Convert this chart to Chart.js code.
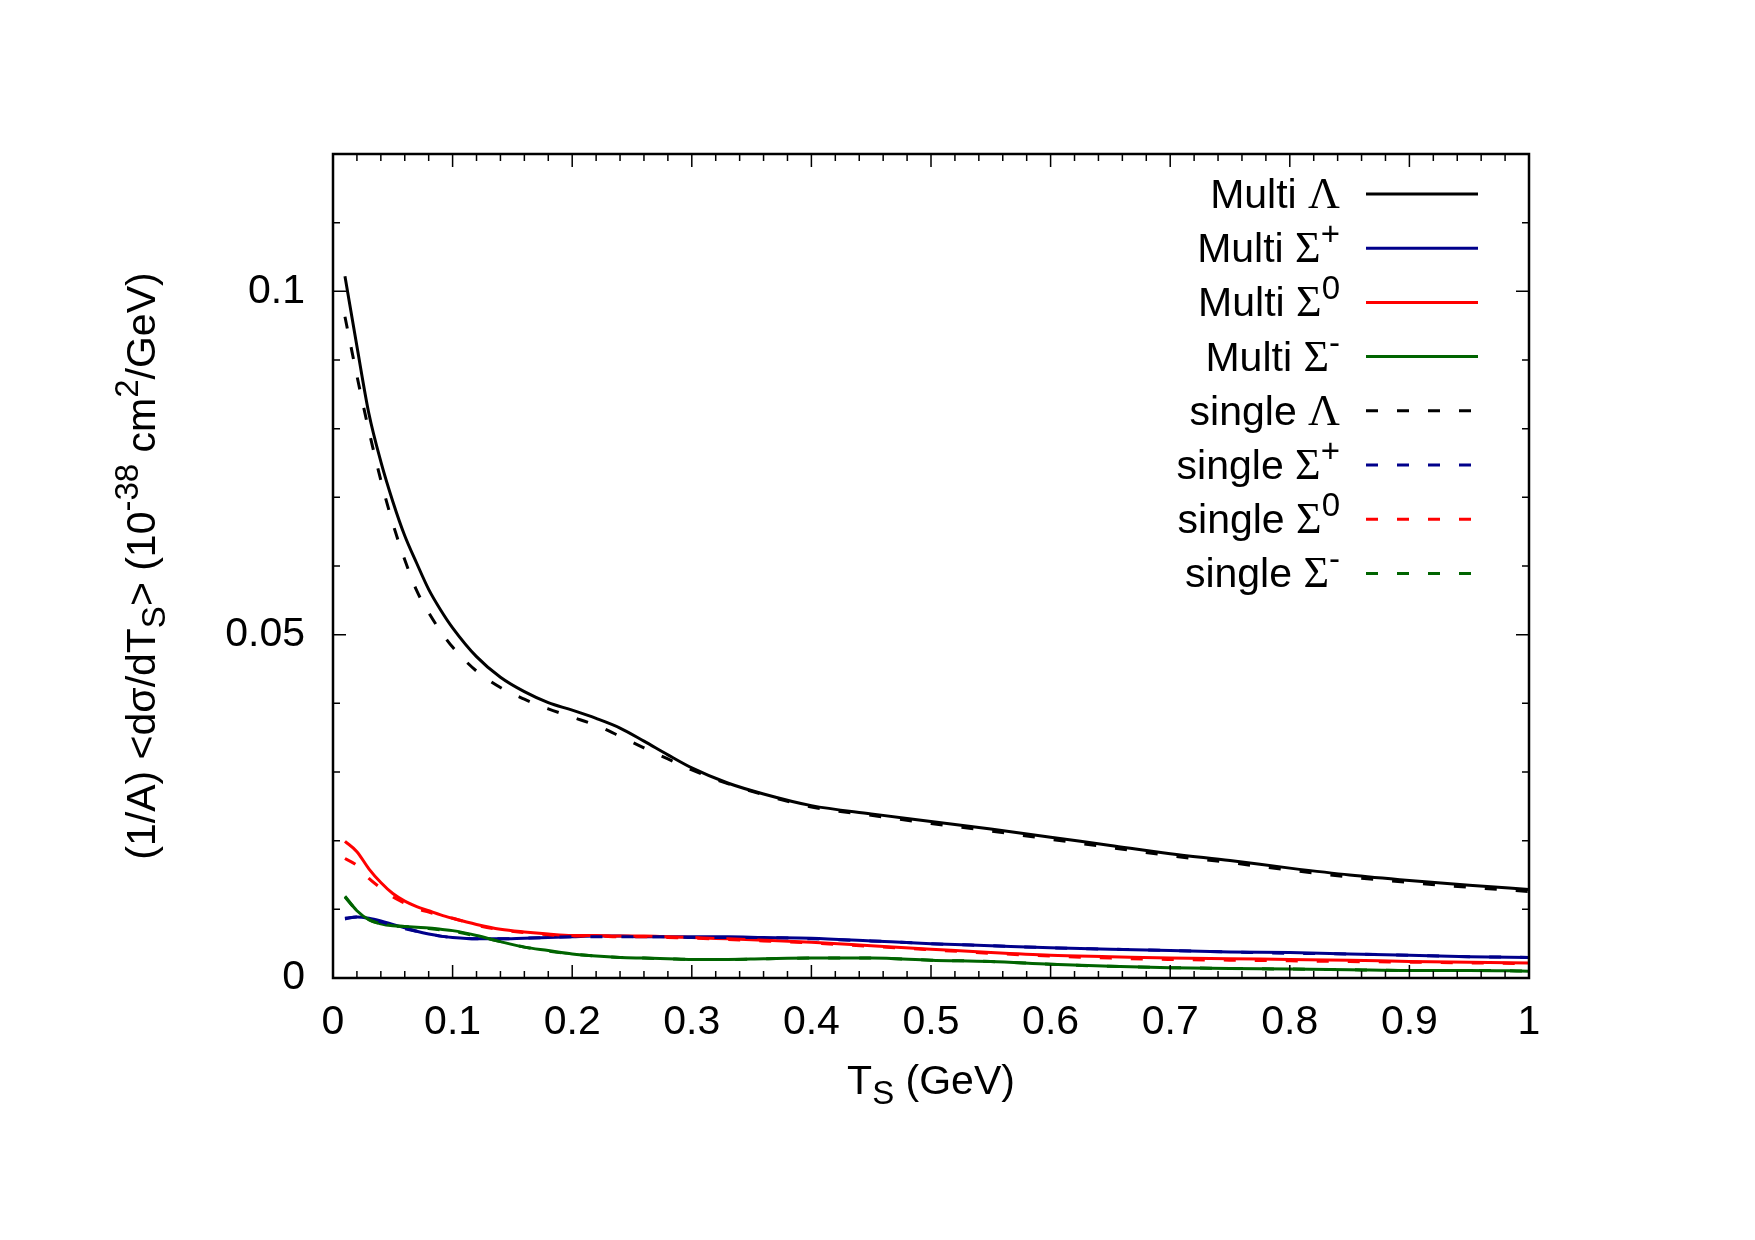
<!DOCTYPE html>
<html>
<head>
<meta charset="utf-8">
<script src="https://cdn.jsdelivr.net/npm/chart.js@4.4.0/dist/chart.umd.min.js"></script>
<style>
html, body { margin: 0; padding: 0; background: #fff; }
#wrap { width: 1755px; height: 1240px; }
</style>
</head>
<body>
<div id="wrap"><canvas id="chart" width="1755" height="1240"></canvas></div>
<script>
// T_S (GeV)
const ts = [0.01, 0.02, 0.03, 0.04, 0.05, 0.06, 0.07, 0.08, 0.09, 0.10,
  0.12, 0.14, 0.16, 0.18, 0.20, 0.22, 0.24, 0.26, 0.28, 0.30,
  0.33, 0.36, 0.40, 0.45, 0.50, 0.55, 0.60, 0.65, 0.70, 0.75,
  0.80, 0.85, 0.90, 0.95, 1.00];

const multiLambda = [0.1022, 0.0920, 0.0822, 0.0752, 0.0694, 0.0644, 0.0604, 0.0566, 0.0536, 0.0510,
  0.0468, 0.0438, 0.0417, 0.0401, 0.0390, 0.0378, 0.0364, 0.0345, 0.0325, 0.0306,
  0.0284, 0.0268, 0.0251, 0.0239, 0.0228, 0.0217, 0.0205, 0.0193, 0.0181, 0.0171,
  0.0160, 0.0150, 0.0142, 0.0135, 0.0129];
const multiSigmaPlus = [0.0086, 0.0089, 0.0087, 0.0083, 0.0078, 0.0073, 0.0068, 0.0064, 0.0061, 0.0059,
  0.0057, 0.0057, 0.0058, 0.0059, 0.0060, 0.0061, 0.0061, 0.0060, 0.0060, 0.0060,
  0.0060, 0.0059, 0.0058, 0.0054, 0.0050, 0.0047, 0.0044, 0.0042, 0.0040, 0.0038,
  0.0037, 0.0035, 0.0033, 0.0031, 0.0030];
const multiSigma0 = [0.0199, 0.0184, 0.0159, 0.0139, 0.0123, 0.0112, 0.0104, 0.0098, 0.0092, 0.0087,
  0.0078, 0.0071, 0.0067, 0.0064, 0.0062, 0.0062, 0.0061, 0.0061, 0.0060, 0.0059,
  0.0057, 0.0055, 0.0052, 0.0047, 0.0042, 0.0037, 0.0033, 0.0031, 0.0029, 0.0028,
  0.0027, 0.0026, 0.0024, 0.0023, 0.0022];
const multiSigmaMinus = [0.0119, 0.0098, 0.0085, 0.0079, 0.0076, 0.0075, 0.0074, 0.0073, 0.0071, 0.0069,
  0.0062, 0.0053, 0.0045, 0.0040, 0.0035, 0.0032, 0.0030, 0.0029, 0.0028, 0.0027,
  0.0027, 0.0028, 0.0029, 0.0029, 0.0026, 0.0024, 0.0020, 0.0017, 0.0015, 0.0014,
  0.0013, 0.0012, 0.0011, 0.0011, 0.0010];

const singleLambda = [0.0963, 0.0877, 0.0797, 0.0725, 0.0662, 0.0609, 0.0564, 0.0532, 0.0505, 0.0482,
  0.0447, 0.0423, 0.0406, 0.0392, 0.0380, 0.0368, 0.0352, 0.0335, 0.0319, 0.0303,
  0.0283, 0.0267, 0.0249, 0.0237, 0.0225, 0.0214, 0.0202, 0.0190, 0.0178, 0.0168,
  0.0157, 0.0147, 0.0139, 0.0132, 0.0126];
const singleSigmaPlus = [0.0087, 0.0089, 0.0087, 0.0082, 0.0077, 0.0072, 0.0068, 0.0064, 0.0061, 0.0059,
  0.0057, 0.0057, 0.0058, 0.0059, 0.0060, 0.0060, 0.0060, 0.0060, 0.0060, 0.0059,
  0.0059, 0.0059, 0.0057, 0.0054, 0.0050, 0.0047, 0.0044, 0.0042, 0.0040, 0.0038,
  0.0036, 0.0035, 0.0033, 0.0031, 0.0030];
const singleSigma0 = [0.0174, 0.0164, 0.0145, 0.0131, 0.0118, 0.0109, 0.0101, 0.0096, 0.0091, 0.0087,
  0.0077, 0.0070, 0.0066, 0.0063, 0.0061, 0.0061, 0.0060, 0.0060, 0.0059, 0.0058,
  0.0056, 0.0054, 0.0051, 0.0046, 0.0041, 0.0036, 0.0032, 0.0029, 0.0027, 0.0026,
  0.0025, 0.0024, 0.0023, 0.0022, 0.0021];
const singleSigmaMinus = [0.0118, 0.0098, 0.0085, 0.0079, 0.0076, 0.0075, 0.0074, 0.0072, 0.0070, 0.0068,
  0.0061, 0.0053, 0.0045, 0.0039, 0.0035, 0.0032, 0.0030, 0.0029, 0.0028, 0.0027,
  0.0027, 0.0028, 0.0029, 0.0029, 0.0026, 0.0024, 0.0020, 0.0017, 0.0015, 0.0014,
  0.0013, 0.0012, 0.0011, 0.0011, 0.0010];

// legend names: base word, greek letter, superscript
const legendBase = ['Multi', 'Multi', 'Multi', 'Multi', 'single', 'single', 'single', 'single'];
const legendGreek = ['Λ', 'Σ', 'Σ', 'Σ', 'Λ', 'Σ', 'Σ', 'Σ'];
const legendSup = ['', '+', '0', '-', '', '+', '0', '-'];

const xTickValues = [0, 0.1, 0.2, 0.3, 0.4, 0.5, 0.6, 0.7, 0.8, 0.9, 1];
const xTickLabels = ['0', '0.1', '0.2', '0.3', '0.4', '0.5', '0.6', '0.7', '0.8', '0.9', '1'];
const yTickValues = [0, 0.05, 0.1];
const yTickLabels = ['0', '0.05', '0.1'];

const SANS = '"Liberation Sans", Arial, sans-serif';
const SERIF = '"Liberation Serif", "Times New Roman", serif';
const FS = 41;

const series = [
  { data: multiLambda, color: '#000000', dash: [] },
  { data: multiSigmaPlus, color: '#00008b', dash: [] },
  { data: multiSigma0, color: '#ff0000', dash: [] },
  { data: multiSigmaMinus, color: '#006400', dash: [] },
  { data: singleLambda, color: '#000000', dash: [12, 19] },
  { data: singleSigmaPlus, color: '#00008b', dash: [12, 19] },
  { data: singleSigma0, color: '#ff0000', dash: [12, 19] },
  { data: singleSigmaMinus, color: '#006400', dash: [12, 19] }
];

function drawRich(ctx, parts, x, y, align) {
  let w = 0;
  parts.forEach(p => { ctx.font = p.font; p.w = ctx.measureText(p.text).width; w += p.w; });
  let cx = align === 'right' ? x - w : align === 'center' ? x - w / 2 : x;
  parts.forEach(p => {
    ctx.font = p.font;
    ctx.fillText(p.text, cx, y + (p.dy || 0));
    cx += p.w;
  });
}

// border, inward ticks on all sides (gnuplot style)
const framePlugin = {
  id: 'frame',
  afterDatasetsDraw(chart) {
    const ctx = chart.ctx, a = chart.chartArea;
    const xs = chart.scales.x, ys = chart.scales.y;
    ctx.save();
    ctx.strokeStyle = '#000';
    ctx.lineWidth = 1.5;
    ctx.beginPath();
    for (let i = 0; i <= 50; i++) {
      const v = i * 0.02;
      const px = xs.getPixelForValue(v);
      const len = i % 5 === 0 ? 13 : 7;
      ctx.moveTo(px, a.bottom); ctx.lineTo(px, a.bottom - len);
      ctx.moveTo(px, a.top); ctx.lineTo(px, a.top + len);
    }
    for (let i = 0; i <= 12; i++) {
      const v = i * 0.01;
      const py = ys.getPixelForValue(v);
      const len = i % 5 === 0 ? 13 : 7;
      ctx.moveTo(a.left, py); ctx.lineTo(a.left + len, py);
      ctx.moveTo(a.right, py); ctx.lineTo(a.right - len, py);
    }
    ctx.stroke();
    ctx.lineWidth = 2.5;
    ctx.strokeRect(a.left, a.top, a.right - a.left, a.bottom - a.top);
    ctx.restore();
  }
};

const textPlugin = {
  id: 'texts',
  afterDraw(chart) {
    const ctx = chart.ctx, a = chart.chartArea;
    ctx.save();
    ctx.fillStyle = '#000';
    ctx.textBaseline = 'alphabetic';
    const f = FS + 'px ' + SANS;
    const fs = Math.round(FS * 0.8) + 'px ' + SANS;

    // x title
    drawRich(ctx, [
      { text: 'T', font: f },
      { text: 'S', font: fs, dy: 10 },
      { text: ' (GeV)', font: f }
    ], (a.left + a.right) / 2, 1094, 'center');

    // y title
    ctx.save();
    ctx.translate(155, (a.top + a.bottom) / 2);
    ctx.rotate(-Math.PI / 2);
    drawRich(ctx, [
      { text: '(1/A) <dσ/dT', font: f },
      { text: 'S', font: fs, dy: 10 },
      { text: '> (10', font: f },
      { text: '-38', font: fs, dy: -17 },
      { text: ' cm', font: f },
      { text: '2', font: fs, dy: -17 },
      { text: '/GeV)', font: f }
    ], 0, 0, 'center');
    ctx.restore();

    // legend
    const fg = (FS + 3) + 'px ' + SERIF;
    for (let i = 0; i < series.length; i++) {
      const rowY = 194 + i * 54.2;
      const parts = [
        { text: legendBase[i] + ' ', font: f },
        { text: legendGreek[i], font: fg }
      ];
      if (legendSup[i]) parts.push({ text: legendSup[i], font: fs, dy: -17 });
      drawRich(ctx, parts, 1340, rowY + 14, 'right');
      ctx.strokeStyle = series[i].color;
      ctx.lineWidth = 3;
      ctx.setLineDash(series[i].dash);
      ctx.beginPath();
      ctx.moveTo(1366, rowY);
      ctx.lineTo(series[i].dash.length ? 1473 : 1478, rowY);
      ctx.stroke();
    }
    ctx.setLineDash([]);
    ctx.restore();
  }
};

new Chart(document.getElementById('chart'), {
  type: 'line',
  data: {
    datasets: series.map((s, i) => ({
      label: legendBase[i] + ' ' + legendGreek[i] + legendSup[i],
      data: ts.map((t, j) => ({ x: t, y: s.data[j] })),
      borderColor: s.color,
      borderWidth: 3,
      borderDash: s.dash,
      pointRadius: 0,
      fill: false,
      cubicInterpolationMode: 'monotone',
      order: series.length - i
    }))
  },
  options: {
    responsive: false,
    animation: false,
    devicePixelRatio: 1,
    layout: { padding: { top: 154, right: 226, bottom: 0, left: 0 } },
    plugins: { legend: { display: false }, tooltip: { enabled: false } },
    scales: {
      x: {
        type: 'linear', min: 0, max: 1, position: 'bottom',
        grid: { display: false, drawTicks: false },
        border: { display: false },
        afterBuildTicks: s => { s.ticks = xTickValues.map(v => ({ value: v })); },
        afterFit: s => { s.height = 262; },
        ticks: {
          color: '#000', padding: 20, maxRotation: 0, autoSkip: false,
          font: { family: SANS, size: FS },
          callback: (v, i) => xTickLabels[i]
        }
      },
      y: {
        type: 'linear', min: 0, max: 0.12,
        grid: { display: false, drawTicks: false },
        border: { display: false },
        afterBuildTicks: s => { s.ticks = yTickValues.map(v => ({ value: v })); },
        afterFit: s => { s.width = 333; },
        ticks: {
          color: '#000', padding: 28,
          font: { family: SANS, size: FS },
          callback: (v, i) => yTickLabels[i]
        }
      }
    }
  },
  plugins: [framePlugin, textPlugin]
});
</script>
</body>
</html>
